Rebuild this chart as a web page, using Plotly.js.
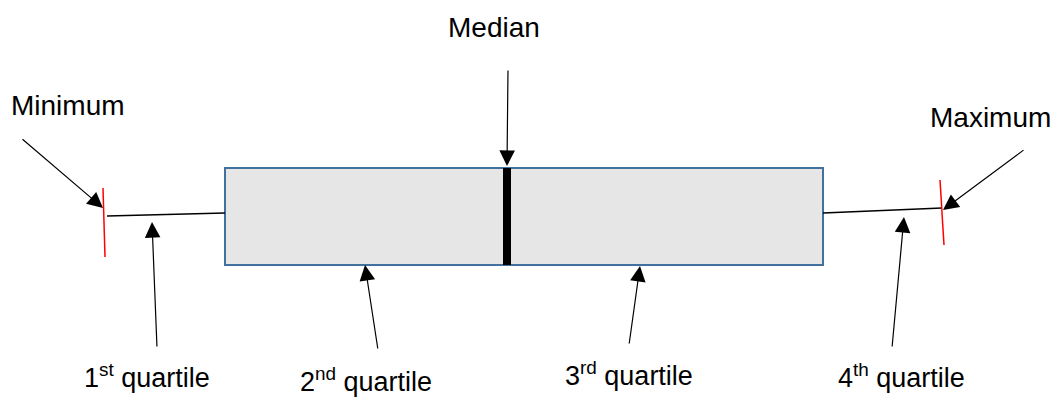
<!DOCTYPE html>
<html>
<head>
<meta charset="utf-8">
<script src="https://cdn.plot.ly/plotly-3.0.1.min.js"></script>
<style>
html,body{margin:0;padding:0;background:#fff;}
#chart{width:1057px;height:399px;}
</style>
</head>
<body>
<div id="chart"></div>
<script>
// Five-number summary of the illustrated box plot (horizontal axis units)
const statNames = ['Minimum', 'Q1', 'Median', 'Q3', 'Maximum'];
const statValues = [104, 225, 507, 823, 942];
// Top labels
const topLabels = ['Minimum', 'Median', 'Maximum'];
// Bottom labels
const bottomLabels = ['1<sup>st</sup> quartile', '2<sup>nd</sup> quartile', '3<sup>rd</sup> quartile', '4<sup>th</sup> quartile'];

const [vMin, vQ1, vMed, vQ3, vMax] = statValues;

// layout geometry (vertical units, top-down)
const boxTop = 168, boxBottom = 265;

const shapes = [
  {type:'rect', xref:'x', yref:'y', x0:vQ1, x1:vQ3, y0:boxTop, y1:boxBottom,
   fillcolor:'#e6e6e6', line:{color:'#41719c', width:2}, layer:'below'},
  {type:'line', xref:'x', yref:'y', x0:vMed, x1:vMed, y0:boxTop, y1:boxBottom,
   line:{color:'#000', width:8}},
  {type:'line', xref:'x', yref:'y', x0:vMin+3, x1:vQ1, y0:216, y1:213,
   line:{color:'#000', width:1.5}},
  {type:'line', xref:'x', yref:'y', x0:vQ3, x1:vMax, y0:213, y1:208,
   line:{color:'#000', width:1.5}},
  {type:'line', xref:'x', yref:'y', x0:vMin-1, x1:vMin+1, y0:188, y1:257,
   line:{color:'#ff0000', width:1.5}},
  {type:'line', xref:'x', yref:'y', x0:vMax-2, x1:vMax+2, y0:180, y1:245,
   line:{color:'#ff0000', width:1.5}}
];

const fontTop = {family:'Liberation Sans, Arial, sans-serif', size:28, color:'#000'};
const fontBottom = {family:'Liberation Sans, Arial, sans-serif', size:27, color:'#000'};
const arrowStyle = {showarrow:true, arrowhead:2, arrowsize:2.6, arrowwidth:1.2,
  arrowcolor:'#000', axref:'x', ayref:'y', xref:'x', yref:'y', text:''};

const annotations = [
  {x:68, y:105, text:topLabels[0], font:fontTop},
  {x:494, y:27, text:topLabels[1], font:fontTop},
  {x:990, y:117, text:topLabels[2], font:fontTop},
  {x:147, y:376, text:bottomLabels[0], font:fontBottom},
  {x:366, y:380, text:bottomLabels[1], font:fontBottom},
  {x:629, y:374, text:bottomLabels[2], font:fontBottom},
  {x:901, y:376, text:bottomLabels[3], font:fontBottom}
].map(a => Object.assign({xref:'x', yref:'y', showarrow:false,
  xanchor:'center', yanchor:'middle'}, a));

const arrows = [
  {x:vMin-1, y:208, ax:21, ay:138},
  {x:vMed, y:166, ax:vMed+1, ay:69},
  {x:vMax+1, y:210, ax:1025, ay:149},
  {x:152, y:222, ax:157, ay:348},
  {x:365, y:265, ax:378, ay:350},
  {x:640, y:266, ax:629, ay:345},
  {x:904, y:217, ax:892, ay:348}
].map(a => Object.assign({}, arrowStyle, a));

const layout = {
  width:1057, height:399,
  margin:{l:0, r:0, t:0, b:0},
  paper_bgcolor:'#fff', plot_bgcolor:'#fff',
  showlegend:false,
  xaxis:{range:[0,1057], visible:false, fixedrange:true},
  yaxis:{range:[399,0], visible:false, fixedrange:true},
  shapes:shapes,
  annotations:annotations.concat(arrows),
  hovermode:false
};

Plotly.newPlot('chart', [{x:[], y:[], type:'scatter', mode:'markers'}], layout,
  {displayModeBar:false, staticPlot:true});
</script>
</body>
</html>
